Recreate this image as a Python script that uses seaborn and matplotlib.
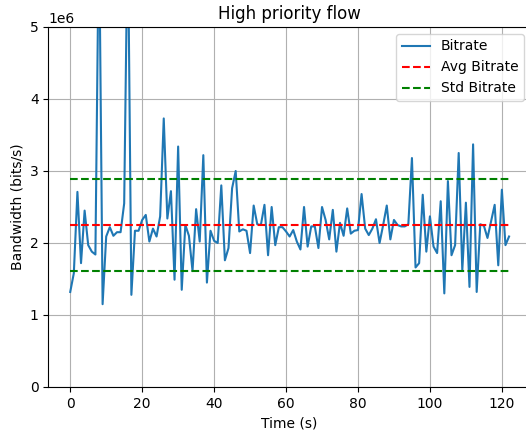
import numpy as np
import pandas as pd
import matplotlib
matplotlib.use("Agg")
import matplotlib.pyplot as plt
import seaborn as sns

# Bitrate values (in units of 1e6 bits/s), one per second
bitrate_m = [
    1.32, 1.58, 2.71, 1.72, 2.45, 1.97, 1.88, 1.84, 6.50, 1.15,
    2.09, 2.22, 2.10, 2.15, 2.15, 2.55, 6.50, 1.28, 2.17, 2.17,
    2.32, 2.39, 2.02, 2.20, 2.09, 2.37, 3.73, 2.34, 2.72, 1.49,
    3.34, 1.35, 2.25, 2.10, 1.61, 2.47, 2.02, 3.22, 1.45, 2.17,
    2.03, 2.00, 2.80, 1.76, 1.93, 2.76, 3.00, 2.16, 2.19, 2.17,
    1.86, 2.52, 2.26, 2.25, 2.53, 1.83, 2.50, 1.97, 2.22, 2.22,
    2.16, 2.09, 2.18, 2.02, 1.91, 2.50, 1.95, 2.23, 2.23, 1.93,
    2.50, 2.32, 2.05, 2.46, 1.88, 2.28, 2.10, 2.48, 2.13, 2.17,
    2.18, 2.68, 2.20, 2.11, 2.20, 2.33, 2.00, 2.25, 2.52, 2.05,
    2.32, 2.25, 2.23, 2.23, 2.26, 3.18, 1.66, 1.72, 2.67, 1.88,
    2.37, 1.95, 1.86, 2.58, 1.30, 2.86, 1.83, 1.97, 3.25, 1.62,
    2.56, 1.39, 3.37, 1.32, 2.26, 2.24, 2.07, 2.30, 2.53, 1.69,
    2.74, 1.97, 2.09,
]
time_s = list(range(len(bitrate_m)))
avg_bitrate = 2.25e6
std_bitrate = 0.645e6

df = pd.DataFrame({"Time": time_s, "Bitrate": [v * 1e6 for v in bitrate_m]})

fig = plt.figure(figsize=(5.26, 4.32), dpi=100)
ax = fig.add_axes([0.0918, 0.1042, 0.9177, 0.8333])

sns.lineplot(data=df, x="Time", y="Bitrate", ax=ax, color="#1f77b4",
             linewidth=1.5, label="Bitrate")
tmin, tmax = min(time_s), max(time_s)
ax.hlines(avg_bitrate, tmin, tmax, colors="red", linestyles="--",
          linewidth=1.5, label="Avg Bitrate")
ax.hlines(avg_bitrate + std_bitrate, tmin, tmax, colors="green",
          linestyles="--", linewidth=1.5, label="Std Bitrate")
ax.hlines(avg_bitrate - std_bitrate, tmin, tmax, colors="green",
          linestyles="--", linewidth=1.5)

ax.set_ylim(0, 5e6)
ax.set_xticks([0, 20, 40, 60, 80, 100, 120])
ax.grid(True, color="#b0b0b0", linewidth=0.8)
ax.set_axisbelow(True)
ax.set_title("High priority flow", fontsize=12)
ax.set_xlabel("Time (s)", fontsize=10)
ax.set_ylabel("Bandwidth (bits/s)", fontsize=10)
ax.legend(loc="upper right", fontsize=10)

fig.savefig("out.png", dpi=100)
